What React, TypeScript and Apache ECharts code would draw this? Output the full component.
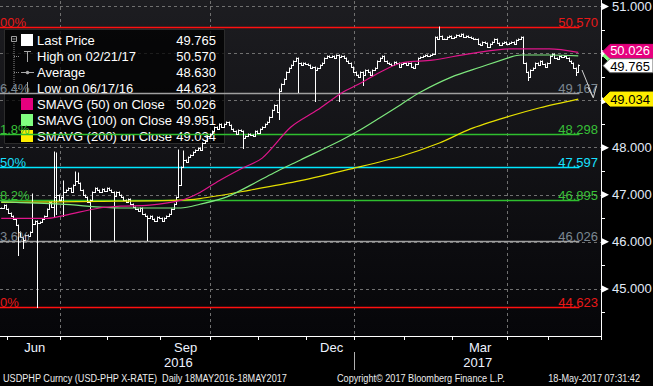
import React, { useEffect, useRef } from 'react';
import * as echarts from 'echarts';

// ---------- calendar (Philippine trading days shown on the chart) ----------
const HOLIDAYS = ['2016-07-06', '2016-08-29', '2016-09-12', '2016-10-31', '2016-11-01', '2016-11-30',
  '2016-12-26', '2016-12-30', '2017-01-02', '2017-04-10', '2017-04-13', '2017-04-14', '2017-05-01'];
const TRADING_DAYS = 242;
const BLANK_DAYS = 9;
const MONTHS = ['Jan', 'Feb', 'Mar', 'Apr', 'May', 'Jun', 'Jul', 'Aug', 'Sep', 'Oct', 'Nov', 'Dec'];
const LABEL_MONTHS = ['2016-06', '2016-09', '2016-12', '2017-03'];
const QUARTER_MONTHS = ['01', '04', '07', '10'];

function buildDates(): string[] {
  const out: string[] = [];
  const d = new Date(Date.UTC(2016, 4, 27));
  while (out.length < TRADING_DAYS + BLANK_DAYS) {
    const wd = d.getUTCDay();
    const s = d.toISOString().slice(0, 10);
    if (wd !== 0 && wd !== 6 && !HOLIDAYS.includes(s)) out.push(s);
    d.setUTCDate(d.getUTCDate() + 1);
  }
  return out;
}
const DATES = buildDates();

// ---------- price data (daily closes) ----------
const CLOSES = [
  46.72, 46.78, 46.70,
  46.62, 46.55, 46.48, 46.35, 46.22, 46.10, 46.05, 46.15, 46.12, 46.20,
  46.38, 46.45, 46.40, 46.42, 46.48, 46.55, 46.70, 46.85, 46.75, 46.95, 47.00, 46.90,
  46.95, 47.05, 47.10, 47.15, 47.05, 47.20, 47.30, 47.25, 47.10, 47.00, 46.95,
  46.85, 46.90, 47.05, 47.15, 47.10, 47.05, 47.12, 47.08, 47.15,
  47.10, 47.05, 46.98, 47.05, 47.00, 46.95, 46.90, 46.85, 46.92, 46.80,
  46.75, 46.70, 46.65, 46.72, 46.60, 46.55, 46.50, 46.55, 46.48, 46.45, 46.52, 46.50,
  46.45, 46.50, 46.55, 46.60, 46.70, 46.80, 46.95, 47.20, 47.60, 47.75,
  47.70, 47.80, 47.85, 47.90, 47.95, 48.00, 47.95, 48.10, 48.15, 48.25, 48.30,
  48.35, 48.45, 48.40, 48.50, 48.45, 48.50, 48.55, 48.48, 48.40, 48.35,
  48.30, 48.38, 48.35, 48.20, 48.25, 48.30, 48.28, 48.25, 48.35, 48.32,
  48.40, 48.45, 48.50, 48.55, 48.65, 48.80, 48.90, 48.75, 49.20, 49.35,
  49.45, 49.60, 49.70, 49.75, 49.85, 49.90, 49.80, 49.75, 49.80, 49.78,
  49.75, 49.70, 49.72, 49.65, 49.70, 49.75, 49.80, 49.90, 49.95, 49.92,
  49.95, 49.90, 49.98, 49.92, 49.95, 49.90, 49.85, 49.80, 49.72, 49.60,
  49.55, 49.50, 49.60, 49.55, 49.65, 49.60, 49.55, 49.65, 49.70, 49.85,
  49.90, 49.95, 49.85, 49.80, 49.78, 49.75, 49.82, 49.80, 49.72, 49.78, 49.80,
  49.75, 49.80, 49.72, 49.70, 49.78, 49.90, 49.92, 49.95, 49.98, 49.95,
  49.98, 50.00, 50.35, 50.30, 50.38, 50.32, 50.30, 50.35, 50.38, 50.33,
  50.35, 50.40, 50.38, 50.42, 50.36, 50.38, 50.35, 50.33, 50.30, 50.32,
  50.20, 50.18, 50.25, 50.22, 50.15, 50.20, 50.25, 50.30, 50.22, 50.18,
  50.22, 50.25, 50.20,
  50.22, 50.25, 50.20, 50.28, 50.30, 50.35, 49.80, 49.60, 49.50, 49.65,
  49.70, 49.80, 49.75, 49.85, 49.78, 49.72, 49.80,
  49.95, 50.00, 49.90, 49.88, 49.95, 49.92, 49.95, 49.90, 49.85, 49.80,
  49.70, 49.60, 49.765,
];
// notable wicks: [day index, low, high]
const WICKS: [number, number | null, number | null][] = [
  [7, 45.72, null], [9, 45.87, null], [13, null, 47.02], [15, 44.623, null],
  [22, 46.55, 47.90], [23, 46.60, 47.88], [26, 46.55, 47.30], [31, null, 47.48], [32, null, 47.46],
  [37, 46.04, null], [47, 46.04, null], [61, 46.05, null], [74, null, 47.95], [76, null, 47.92],
  [101, 47.99, null], [116, 48.60, 49.25], [124, 49.18, null], [131, 49.00, null], [141, 49.00, null],
  [151, 49.33, null], [183, null, 50.57], [220, 49.44, null], [240, 49.55, null],
];

// ---------- moving averages (sampled along the lines) ----------
const SMA50_IDX = [0, 19, 27, 41, 50, 62, 75, 83, 91, 100, 109, 121, 132, 142, 150, 158, 167, 180, 196, 213, 229, 241];
const SMA50_VAL = [46.50, 46.50, 46.57, 46.72, 46.76, 46.78, 46.88, 47.05, 47.30, 47.55, 47.78, 48.44, 48.80, 49.16, 49.37, 49.60, 49.80, 49.86, 50.00, 50.10, 50.10, 50.026];
const SMA100_IDX = [0, 25, 50, 75, 83, 94, 104, 114, 125, 142, 150, 158, 167, 175, 188, 200, 213, 217, 229, 241];
const SMA100_VAL = [46.85, 46.80, 46.72, 46.72, 46.80, 46.95, 47.20, 47.47, 47.74, 48.16, 48.38, 48.63, 48.92, 49.18, 49.50, 49.71, 49.93, 49.97, 49.97, 49.951];
const SMA200_IDX = [0, 41, 71, 83, 104, 125, 146, 167, 183, 196, 211, 225, 241];
const SMA200_VAL = [46.84, 46.86, 46.88, 46.92, 47.10, 47.30, 47.55, 47.82, 48.10, 48.40, 48.65, 48.85, 49.034];

// ---------- Fibonacci levels ----------
const FIB_VALUES = [50.570, 49.167, 48.298, 47.597, 46.895, 46.026, 44.623];
const FIB_PCTS = ['00%', '6.4%', '1.8%', '50%', '8.2%', '3.6%', '0%'];
const FIB_LINE_COLORS = ['#ff1010', '#a0a0a0', '#2fbf2f', '#00e8ff', '#2fbf2f', '#a0a0a0', '#ff1010'];
const FIB_TEXT_COLORS = ['#e81818', '#7c8892', '#38c038', '#18e0ff', '#38c038', '#7c8892', '#e81818'];

// ---------- legend ----------
const LEGEND_LABELS = ['Last Price', 'High on 02/21/17', 'Average', 'Low on 06/17/16', 'SMAVG (50) on Close', 'SMAVG (100) on Close', 'SMAVG (200) on Close'];
const LEGEND_VALUES = ['49.765', '50.570', '48.630', '44.623', '50.026', '49.951', '49.034'];
const LAST_PRICE = 49.765;
const SMA_LAST = [50.026, 49.951, 49.034];

const C_SMA50 = '#e0168b';
const C_SMA100 = '#7ee87e';
const C_SMA200 = '#e6e000';
const FONT = '"Liberation Sans", Arial, sans-serif';
const LAST_IDX = TRADING_DAYS - 1;
const Y_TICKS = [45, 46, 47, 48, 49, 50, 51];
const Y_LABELS_SHOWN = [45, 46, 47, 48, 51]; // 49 and 50 sit under the value badges

function isMonthStart(i: number) {
  return i > 0 && i < DATES.length && DATES[i].slice(5, 7) !== DATES[i - 1].slice(5, 7);
}
function isQuarterStart(i: number) {
  return isMonthStart(i) && QUARTER_MONTHS.includes(DATES[i].slice(5, 7));
}
function monthMid(prefix: string) {
  let s = -1, e = -1;
  DATES.forEach((d, i) => { if (d.startsWith(prefix)) { if (s < 0) s = i; e = i; } });
  return Math.round((s + e) / 2);
}
const MONTH_LABEL_IDX = LABEL_MONTHS.map(monthMid);
const FIRST_2017 = DATES.findIndex((d) => d.startsWith('2017'));
const YEAR_LABEL_IDX = [Math.round((FIRST_2017 - 1) / 2), Math.round((FIRST_2017 + DATES.length - 1) / 2)];

function ohlcData() {
  return CLOSES.map((c, i) => {
    const o = i > 0 ? CLOSES[i - 1] : c;
    let lo = Math.min(o, c), hi = Math.max(o, c);
    WICKS.forEach(([k, l, h]) => {
      if (k === i) { if (l !== null) lo = Math.min(lo, l); if (h !== null) hi = Math.max(hi, h); }
    });
    return [i, o, c, lo, hi];
  });
}

export default function App() {
  const ref = useRef<HTMLDivElement>(null);
  useEffect(() => {
    document.body.style.margin = '0';
    const el = ref.current!;
    const chart = echarts.init(el, undefined, { renderer: 'svg' });

    const option: any = {
      animation: false,
      backgroundColor: '#000',
      textStyle: { fontFamily: FONT },
      grid: {
        left: 0, right: 52, top: -17, bottom: 50, show: true, borderWidth: 0,
        outerBoundsMode: 'none',
        backgroundColor: new echarts.graphic.LinearGradient(0, 0, 0, 1, [
          { offset: 0, color: '#1e1e22' }, { offset: 1, color: '#060609' },
        ]),
      },
      xAxis: [
        {
          type: 'category', data: DATES, boundaryGap: true,
          axisLine: { show: true, lineStyle: { color: '#ffffff', width: 1 } },
          axisTick: { show: true, interval: (i: number) => isMonthStart(i), length: 4, lineStyle: { color: '#ffffff' } },
          axisLabel: {
            interval: (i: number) => MONTH_LABEL_IDX.includes(i),
            formatter: (v: string) => MONTHS[parseInt(v.slice(5, 7), 10) - 1],
            color: '#eef3ff', fontSize: 13, margin: 5, fontFamily: FONT,
          },
          splitLine: { show: true, interval: (i: number) => isQuarterStart(i), lineStyle: { color: '#707070', type: [3, 3], width: 1 } },
        },
        {
          type: 'category', data: DATES, boundaryGap: true, position: 'bottom', offset: 17,
          axisLine: { show: false }, axisTick: { show: false }, splitLine: { show: false },
          axisLabel: {
            interval: (i: number) => YEAR_LABEL_IDX.includes(i),
            formatter: (v: string) => v.slice(0, 4),
            color: '#eef3ff', fontSize: 13, margin: 3, fontFamily: FONT,
          },
        },
      ],
      yAxis: {
        type: 'value', position: 'right', min: 44, max: 51.5, interval: 1, scale: true,
        axisLine: { show: true, lineStyle: { color: '#ffffff', width: 1 } },
        axisTick: { show: false },
        minorTick: { show: true, splitNumber: 2, length: 4, lineStyle: { color: '#ffffff' } },
        axisLabel: {
          margin: 11, color: '#e2ebf8', fontSize: 13, fontFamily: FONT,
          formatter: (v: number) => (Y_LABELS_SHOWN.some((t) => Math.abs(t - v) < 1e-6) ? v.toFixed(3) : ''),
        },
        splitLine: { show: true, lineStyle: { color: '#707070', type: [3, 3], width: 1 } },
      },
      series: [
        {
          name: 'USDPHP', type: 'custom', z: 2, clip: true,
          encode: { x: 0, y: [1, 2, 3, 4] },
          data: ohlcData(),
          renderItem: (params: any, api: any) => {
            const i = api.value(0);
            const o = api.value(1), c = api.value(2), l = api.value(3), h = api.value(4);
            const x = Math.round(api.coord([i, c])[0]) + 0.5;
            const yo = Math.round(api.coord([i, o])[1]) + 0.5;
            const yc = Math.round(api.coord([i, c])[1]) + 0.5;
            const yl = Math.round(api.coord([i, l])[1]) + 0.5;
            const yh = Math.round(api.coord([i, h])[1]) - 0.5;
            const st = { stroke: '#ffffff', lineWidth: 1 };
            return {
              type: 'group',
              children: [
                { type: 'line', shape: { x1: x, y1: yh, x2: x, y2: yl + 0.5 }, style: st },
                { type: 'line', shape: { x1: x - 1.5, y1: yo, x2: x, y2: yo }, style: st },
                { type: 'line', shape: { x1: x, y1: yc, x2: x + 1.5, y2: yc }, style: st },
              ],
            };
          },
        },
        {
          name: 'SMAVG (200)', type: 'line', z: 3, showSymbol: false, smooth: 0.3,
          lineStyle: { color: C_SMA200, width: 1.2 },
          data: SMA200_IDX.map((x, k) => [x, SMA200_VAL[k]]),
        },
        {
          name: 'SMAVG (100)', type: 'line', z: 3, showSymbol: false, smooth: 0.3,
          lineStyle: { color: C_SMA100, width: 1.2 },
          data: SMA100_IDX.map((x, k) => [x, SMA100_VAL[k]]),
        },
        {
          name: 'SMAVG (50)', type: 'line', z: 3, showSymbol: false, smooth: 0.3,
          lineStyle: { color: C_SMA50, width: 1.2 },
          data: SMA50_IDX.map((x, k) => [x, SMA50_VAL[k]]),
        },
      ],
    };
    chart.setOption(option);

    // ---------- overlay graphics positioned through the chart's scales ----------
    const yPix = (v: number) => chart.convertToPixel({ yAxisIndex: 0 }, v) as number;
    const xPix = (i: number) => chart.convertToPixel({ xAxisIndex: 0 }, DATES[i]) as number;
    const band = xPix(1) - xPix(0);
    const axisX = xPix(DATES.length - 1) + band / 2;
    const plotLeft = xPix(0) - band / 2;
    const lastBarRight = xPix(LAST_IDX) + band / 2;
    const g: any[] = [];

    // Fibonacci retracement lines and labels
    FIB_VALUES.forEach((v, k) => {
      const y = Math.round(yPix(v)) + 0.5;
      g.push({ type: 'line', z: 1, shape: { x1: plotLeft, y1: y, x2: lastBarRight, y2: y }, style: { stroke: FIB_LINE_COLORS[k], lineWidth: 1.5 } });
      g.push({ type: 'text', z: 4, x: axisX - 3, y: y + 1, style: { text: v.toFixed(3), fill: FIB_TEXT_COLORS[k], font: `13px ${FONT}`, textAlign: 'right', textVerticalAlign: 'bottom' } });
      g.push({ type: 'text', z: 4, x: plotLeft, y: y + 1, style: { text: FIB_PCTS[k], fill: FIB_TEXT_COLORS[k], font: `13px ${FONT}`, textAlign: 'left', textVerticalAlign: 'bottom' } });
    });

    // axis triangles
    Y_TICKS.forEach((t) => {
      const y = yPix(t);
      g.push({ type: 'polygon', z: 50, shape: { points: [[axisX + 1, y - 3.5], [axisX + 8, y], [axisX + 1, y + 3.5]] }, style: { fill: '#ffffff' } });
    });

    // year separator
    const sepX = Math.round(xPix(FIRST_2017) - band / 2) + 0.5;
    g.push({ type: 'line', z: 50, shape: { x1: sepX, y1: 352, x2: sepX, y2: 370 }, style: { stroke: '#b0b0b0', lineWidth: 1 } });

    // right-side value badges
    const badgeShape = (v: number, fill: string, stroke?: string, dy = 0) => {
      const y = yPix(v) + dy;
      g.push({
        type: 'polygon', z: 60,
        shape: { points: [[axisX + 2, y], [axisX + 9, y - 7], [653, y - 7], [653, y + 7], [axisX + 9, y + 7]] },
        style: { fill, stroke: stroke || fill, lineWidth: 1 },
      });
      return y;
    };
    const badgeText = (v: number, y: number, color: string) => {
      g.push({
        type: 'text', z: 61, x: 630, y: y + 0.5,
        style: { text: v.toFixed(3), fill: color, font: `13px ${FONT}`, textAlign: 'center', textVerticalAlign: 'middle' },
      });
    };
    badgeShape(SMA_LAST[1], '#80ff80');
    const yM = badgeShape(SMA_LAST[0], '#e6007e', undefined, -1);
    badgeText(SMA_LAST[0], yM - 1, '#ffffff');
    const yW = badgeShape(LAST_PRICE, '#ffffff', '#666666', 1);
    badgeText(LAST_PRICE, yW + 0.5, '#000000');
    const yY = badgeShape(SMA_LAST[2], '#ffee00');
    badgeText(SMA_LAST[2], yY, '#000000');

    // annotation arrow
    g.push({ type: 'polyline', z: 55, shape: { points: [[582, 70], [593.3, 97.7]] }, style: { stroke: '#d0d0d0', lineWidth: 1, fill: 'none' } });
    g.push({ type: 'polyline', z: 55, shape: { points: [[588, 87.5], [593.3, 97.7], [596.5, 86]] }, style: { stroke: '#d0d0d0', lineWidth: 1, fill: 'none' } });

    // legend box
    const rowY = [40, 56, 72, 88, 104, 120, 136];
    const lg: any[] = [];
    lg.push({ type: 'rect', shape: { x: 4.5, y: 29.5, width: 220, height: 114 }, style: { fill: 'rgba(0,0,0,0.74)', stroke: '#2c2c2c', lineWidth: 1 } });
    lg.push({ type: 'rect', shape: { x: 11.5, y: 36.5, width: 5, height: 5 }, style: { fill: 'none', stroke: '#a0a0a0', lineWidth: 1 } });
    lg.push({ type: 'line', shape: { x1: 12.5, y1: 39, x2: 15.5, y2: 39 }, style: { stroke: '#a0a0a0', lineWidth: 1 } });
    lg.push({ type: 'line', shape: { x1: 14, y1: 43, x2: 14, y2: 88 }, style: { stroke: '#888888', lineWidth: 1, lineDash: [1, 1] } });
    [56, 72, 88].forEach((y) => lg.push({ type: 'line', shape: { x1: 14, y1: y + 0.5, x2: 20, y2: y + 0.5 }, style: { stroke: '#888888', lineWidth: 1, lineDash: [1, 1] } }));
    lg.push({ type: 'rect', shape: { x: 21, y: 34, width: 12, height: 12 }, style: { fill: '#ffffff' } });
    lg.push({ type: 'line', shape: { x1: 27.5, y1: 51, x2: 27.5, y2: 62 }, style: { stroke: '#a8a8a8', lineWidth: 1 } });
    lg.push({ type: 'line', shape: { x1: 24, y1: 51.5, x2: 31, y2: 51.5 }, style: { stroke: '#a8a8a8', lineWidth: 1 } });
    lg.push({ type: 'line', shape: { x1: 21, y1: 72.5, x2: 34, y2: 72.5 }, style: { stroke: '#a8a8a8', lineWidth: 1 } });
    lg.push({ type: 'circle', shape: { cx: 27.5, cy: 72.5, r: 1.8 }, style: { fill: '#a8a8a8' } });
    lg.push({ type: 'line', shape: { x1: 27.5, y1: 82, x2: 27.5, y2: 93 }, style: { stroke: '#a8a8a8', lineWidth: 1 } });
    lg.push({ type: 'line', shape: { x1: 24, y1: 93.5, x2: 31, y2: 93.5 }, style: { stroke: '#a8a8a8', lineWidth: 1 } });
    [['#e6007e', 98], ['#80ff80', 114], ['#ffee00', 130]].forEach(([c, y]) =>
      lg.push({ type: 'rect', shape: { x: 21, y: y as number, width: 12, height: 12 }, style: { fill: c as string } }));
    LEGEND_LABELS.forEach((t, k) => {
      lg.push({ type: 'text', x: 37, y: rowY[k], style: { text: t, fill: '#ffffff', font: `13px ${FONT}`, textVerticalAlign: 'middle' } });
      lg.push({ type: 'text', x: 216, y: rowY[k], style: { text: LEGEND_VALUES[k], fill: '#ffffff', font: `13px ${FONT}`, textAlign: 'right', textVerticalAlign: 'middle' } });
    });
    g.push({ type: 'group', z: 80, children: lg });

    // footer
    const foot = (text: string, x: number, align: string) => ({
      type: 'text', z: 90, x, y: 378, scaleX: 0.83,
      style: { text, fill: '#ececec', font: `11px ${FONT}`, textAlign: align, textVerticalAlign: 'middle' },
    });
    g.push(foot('USDPHP Curncy (USD-PHP X-RATE)  Daily 18MAY2016-18MAY2017', 3, 'left'));
    g.push(foot('Copyright\u00a9 2017 Bloomberg Finance L.P.', 337, 'left'));
    g.push(foot('18-May-2017 07:31:42', 640, 'right'));

    chart.setOption({ graphic: g });

    return () => chart.dispose();
  }, []);

  return <div ref={ref} style={{ position: 'fixed', left: 0, top: 0, width: 653, height: 386 }} />;
}
